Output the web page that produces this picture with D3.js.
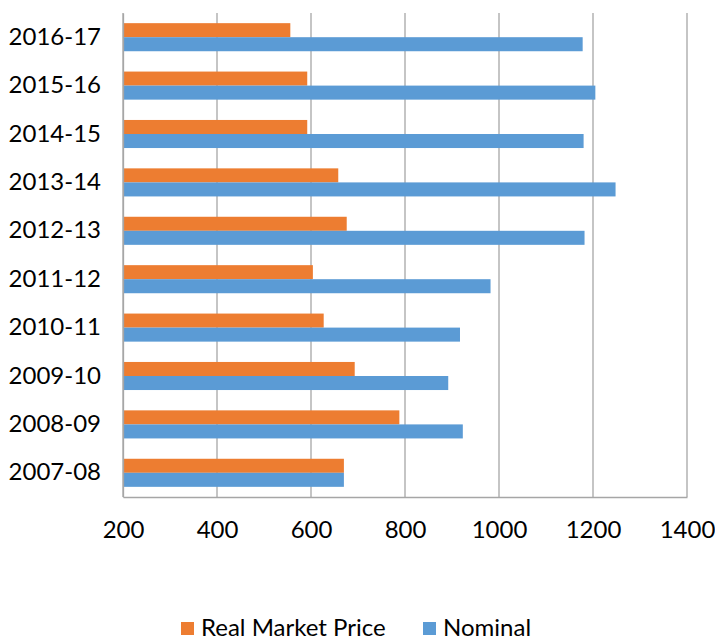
<!DOCTYPE html>
<html>
<head>
<meta charset="utf-8">
<script src="https://cdn.jsdelivr.net/npm/d3@7"></script>
<style>
  html, body { margin: 0; padding: 0; background: #fff; }
  svg text { font-family: Lato, "Open Sans", sans-serif; fill: #000; }
</style>
</head>
<body>
<svg id="chart" width="715" height="642"></svg>
<script>
// Financial years, bottom to top as listed
const years = ["2007-08", "2008-09", "2009-10", "2010-11", "2011-12",
               "2012-13", "2013-14", "2014-15", "2015-16", "2016-17"];
const realMarketPrice = [670, 788, 693, 627, 604, 676, 658, 592, 592, 556];
const nominal = [670, 923, 892, 917, 982, 1182, 1248, 1180, 1205, 1178];
const xTicks = [200, 400, 600, 800, 1000, 1200, 1400];
const seriesNames = ["Real Market Price", "Nominal"];
const seriesColors = ["#ED7D31", "#5B9BD5"];

const svg = d3.select("#chart");
const plot = { left: 123, right: 687, top: 13, bottom: 497 };
const fontSize = 24;

const x = d3.scaleLinear().domain([200, 1400]).range([plot.left, plot.right]);
// Latest year at the top
const y = d3.scaleBand().domain(years.slice().reverse())
  .range([plot.top, plot.bottom]).paddingInner(0.42).paddingOuter(0.21);
const inner = d3.scaleBand().domain(seriesNames).range([0, y.bandwidth()]);

// Vertical gridlines
svg.append("g").selectAll("line").data(xTicks).join("line")
  .attr("x1", d => x(d)).attr("x2", d => x(d))
  .attr("y1", plot.top).attr("y2", plot.bottom)
  .attr("stroke", "#a6a6a6").attr("stroke-width", 1.3);

// Bars
const rows = years.map((yr, i) => ({ yr, vals: [realMarketPrice[i], nominal[i]] }));
const g = svg.append("g").selectAll("g").data(rows).join("g")
  .attr("transform", d => `translate(0,${y(d.yr)})`);
g.selectAll("rect").data(d => d.vals.map((v, j) => ({ v, j }))).join("rect")
  .attr("x", x(200))
  .attr("y", d => inner(seriesNames[d.j]))
  .attr("width", d => x(d.v) - x(200))
  .attr("height", inner.bandwidth())
  .attr("fill", d => seriesColors[d.j]);

// Bottom axis
const xAxis = svg.append("g").attr("transform", `translate(0,${plot.bottom})`)
  .call(d3.axisBottom(x).tickValues(xTicks).tickSize(0).tickPadding(24).tickFormat(d3.format("d")));
xAxis.select(".domain").attr("stroke", "#a6a6a6").attr("stroke-width", 1.5);
xAxis.selectAll("text").attr("font-size", fontSize).style("font-family", "Lato, sans-serif");

// Left axis
const yAxis = svg.append("g").attr("transform", `translate(${plot.left},0)`)
  .call(d3.axisLeft(y).tickSize(0).tickPadding(22));
yAxis.select(".domain").attr("stroke", "#a6a6a6").attr("stroke-width", 1.3);
yAxis.selectAll("text").attr("font-size", fontSize).style("font-family", "Lato, sans-serif");

// Legend
const legend = svg.append("g");
const legendX = [181, 423];
seriesNames.forEach((name, i) => {
  legend.append("rect").attr("x", legendX[i]).attr("y", 622)
    .attr("width", 13).attr("height", 13).attr("fill", seriesColors[i]);
  legend.append("text").attr("x", legendX[i] + 20).attr("y", 636)
    .attr("font-size", fontSize).text(name);
});
</script>
</body>
</html>
